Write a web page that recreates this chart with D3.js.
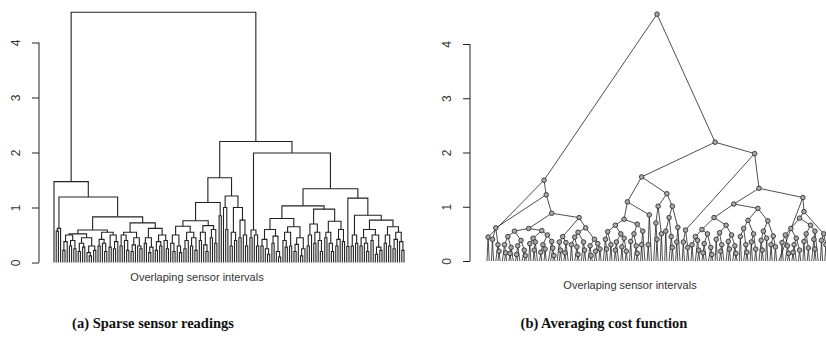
<!DOCTYPE html>
<html><head><meta charset="utf-8">
<script src="https://cdn.jsdelivr.net/npm/d3@7"></script>
<style>body{margin:0;background:#fff}svg{display:block}</style>
</head><body>
<svg id="chart" width="826" height="337"></svg>
<script>
// ---------- data ----------
const yTicks = [0, 1, 2, 3, 4];
const xLabel = "Overlaping sensor intervals";
const captions = ["(a) Sparse sensor readings", "(b) Averaging cost function"];

// Dendrogram nodes: [mergeHeight, leftChild, rightChild]; a leaf (sensor interval) is 0.
// ---- panel (a) ----
const leftP = [0.52, [0.5, [0.38, [0.22, 0, 0], 0], [0.4, [0.3, 0, 0], [0.25, 0, 0]]], [0.45, [0.35, [0.2, 0, 0], [0.28, 0, 0]], [0.3, [0.18, 0, [0.12, 0, 0]], [0.22, 0, 0]]]];
const leftQ = [0.55, [0.42, [0.3, 0, 0], [0.35, 0, [0.2, 0, 0]]], [0.5, [0.28, 0, 0], [0.38, [0.25, 0, 0], 0]]];
const leftR = [0.55, [0.5, [0.3, 0, 0], [0.4, 0, [0.22, 0, 0]]], [0.45, [0.32, [0.2, 0, 0], 0], [0.3, 0, [0.25, 0, 0]]]];
const leftS = [0.62, [0.45, [0.35, 0, 0], [0.28, [0.18, 0, 0], 0]], [0.5, [0.38, [0.22, 0, 0], [0.3, 0, 0]], [0.4, 0, [0.25, 0, 0]]]];
const leftA = [1.47, 0, [1.19, [0.62, [0.57, 0, 0], 0], [0.83, [0.59, leftP, leftQ], [0.72, leftR, leftS]]]];
const leftX = [0.66, [0.5, [0.35, 0, [0.2, 0, 0]], [0.3, 0, [0.18, 0, 0]]], [0.55, [0.4, [0.25, 0, 0], 0], [0.45, [0.3, 0, 0], [0.22, 0, 0]]]];
const leftY = [0.67, [0.55, [0.4, 0, 0], [0.32, 0, [0.2, 0, 0]]], [0.6, [0.45, 0, 0], [0.35, 0, 0]]];
const leftB1b = [1.21, [1.0, 0, [0.6, 0, 0]], [1.0, [0.55, [0.3, 0, 0], [0.4, 0, 0]], [0.77, [0.45, 0, 0], [0.5, 0, [0.3, 0, 0]]]]];
const leftB1 = [1.54, [1.09, [0.76, leftX, leftY], [0.85, 0, 0]], leftB1b];
const leftB2a = [0.59, [0.45, 0, 0], [0.5, 0, [0.3, 0, 0]]];
const leftA10 = [0.6, [0.42, [0.3, 0, 0], [0.25, 0, [0.15, 0, 0]]], [0.48, [0.35, 0, 0], [0.2, 0, [0.1, 0, 0]]]];
const leftA11 = [0.65, [0.55, [0.4, 0, [0.28, 0, 0]], [0.3, 0, 0]], [0.45, [0.33, [0.2, 0, 0], 0], [0.25, [0.12, 0, 0], 0]]];
const leftBb1 = [0.7, [0.5, [0.3, 0, 0], 0], [0.55, [0.35, 0, 0], [0.4, 0, [0.2, 0, 0]]]];
const leftBb2 = [0.75, [0.55, [0.45, 0, 0], [0.35, 0, [0.2, 0, 0]]], [0.6, [0.42, [0.3, 0, 0], 0], [0.38, 0, 0]]];
const leftC11 = [0.6, [0.45, [0.3, 0, 0], [0.35, 0, [0.2, 0, 0]]], [0.5, [0.4, 0, 0], [0.28, [0.15, 0, 0], [0.22, 0, 0]]]];
const leftC10 = [0.65, [0.5, [0.35, 0, 0], [0.3, 0, 0]], [0.55, [0.42, [0.25, 0, 0], 0], [0.38, 0, [0.22, 0, 0]]]];
const leftB2b = [1.34, [1.03, [0.8, leftA10, leftA11], [0.97, leftBb1, leftBb2]],
                       [1.17, [0.29, 0, 0], [0.86, [0.5, [0.3, 0, 0], [0.35, 0, 0]], [0.77, leftC11, leftC10]]]];
const leftTree = [4.55, leftA, [2.2, leftB1, [1.99, leftB2a, leftB2b]]];

// ---- panel (b) ----
const rC = [0.44, 0, 0];
const rE = [0.61, [0.4, 0, 0], [0.3, 0, [0.18, 0, 0]]];
const rG1 = [0.55, [0.45, [0.3, 0, [0.15, 0, 0]], [0.25, [0.14, 0, 0], 0]], [0.38, [0.28, [0.12, 0, 0], 0], [0.2, 0, [0.1, 0, 0]]]];
const rG2 = [0.56, [0.42, [0.32, 0, 0], [0.35, [0.2, 0, 0], 0]], [0.48, [0.3, [0.16, 0, 0], [0.22, 0, 0]], [0.36, 0, [0.24, 0, [0.1, 0, 0]]]]];
const rH1 = [0.45, [0.35, 0, [0.2, 0, 0]], [0.34, [0.15, 0, 0], 0]];
const rH2 = [0.61, [0.53, [0.44, [0.3, 0, 0], [0.26, 0, [0.12, 0, 0]]], [0.35, 0, [0.2, 0, 0]]], [0.4, [0.28, 0, [0.1, 0, 0]], [0.32, [0.18, 0, 0], [0.22, 0, 0]]]];
const rL = [1.49, rC, [1.22, rE, [0.88, [0.6, rG1, rG2], [0.8, rH1, rH2]]]];
const rA1a = [0.66, [0.54, [0.4, 0, [0.22, 0, 0]], [0.3, 0, 0]], [0.5, [0.35, [0.2, 0, 0], 0], [0.42, [0.26, 0, 0], [0.18, 0, 0]]]];
const rA1b = [0.68, [0.5, [0.36, 0, 0], [0.28, 0, [0.14, 0, 0]]], [0.55, [0.3, 0, 0], 0]];
const rB1 = [1.01, [0.7, 0, [0.4, 0, 0]], [0.5, 0, 0]];
const rB2 = [1.01, [0.8, [0.55, 0, 0], [0.45, 0, [0.25, 0, 0]]], [0.62, [0.35, 0, 0], 0]];
const rR1 = [1.55, [1.09, [0.77, rA1a, rA1b], [0.85, [0.3, 0, 0], 0]], [1.24, rB1, rB2]];
const rX = [0.57, [0.35, 0, 0], [0.25, 0, 0]];
const rM1 = [0.58, [0.45, [0.3, 0, 0], [0.38, 0, [0.2, 0, 0]]], [0.5, [0.32, [0.15, 0, 0], 0], [0.25, 0, [0.12, 0, 0]]]];
const rM2 = [0.66, [0.52, [0.4, 0, 0], [0.3, [0.18, 0, 0], 0]], [0.48, [0.36, 0, [0.22, 0, 0]], [0.28, 0, [0.14, 0, 0]]]];
const rN1 = [0.75, [0.6, [0.45, 0, 0], [0.3, 0, [0.16, 0, 0]]], [0.5, [0.35, 0, 0], [0.22, 0, 0]]];
const rN2 = [0.74, [0.55, [0.38, 0, [0.2, 0, 0]], [0.42, 0, 0]], [0.46, [0.3, 0, 0], [0.26, 0, 0]]];
const rYa = [0.6, [0.48, [0.34, 0, 0], [0.28, 0, [0.14, 0, 0]]], [0.42, [0.3, [0.16, 0, 0], 0], [0.2, 0, 0]]];
const rYb = [0.66, [0.5, [0.36, 0, 0], [0.24, 0, 0]], [0.55, [0.4, 0, [0.22, 0, 0]], 0]];
const rYc = [0.5, [0.38, 0, 0], [0.3, 0, 0]];
const rR2 = [1.98, rX, [1.34, [1.05, [0.8, rM1, rM2], [0.97, rN1, rN2]], [1.17, 0, [0.91, [0.79, rYa, rYb], rYc]]]];
const rightTree = [4.55, rL, [2.19, rR1, rR2]];

// ---------- helpers ----------
function toNode(a) {
  return Array.isArray(a) ? { h: a[0], children: [toNode(a[1]), toNode(a[2])] } : { h: 0 };
}
function build(tree) {
  const root = d3.hierarchy(toNode(tree));
  root.leaves().forEach((l, i) => { l.slot = i; });
  return root;
}

const svg = d3.select("#chart");
const ink = "#222";

function drawAxis(g, y) {
  const ax = d3.axisLeft(y).tickValues(yTicks).tickSize(7).tickFormat(d3.format("d"));
  g.call(ax);
  g.select(".domain").remove();
  g.append("line").attr("x1", 0).attr("x2", 0).attr("y1", y(0)).attr("y2", y(4)).attr("stroke", ink);
  g.selectAll(".tick line").attr("stroke", ink);
  g.selectAll(".tick text")
    .attr("x", null).attr("dy", null)
    .attr("transform", "translate(-19,0) rotate(-90)")
    .attr("text-anchor", "middle")
    .attr("fill", "#333")
    .style("font-family", "Liberation Sans, Arial, sans-serif")
    .style("font-size", "12px");
}

// ---------- panel (a): rectangular dendrogram ----------
{
  const root = build(leftTree);
  const n = root.leaves().length;
  const x = d3.scaleLinear().domain([0, n - 1]).range([54, 404]);
  const y = d3.scaleLinear().domain([0, 4]).range([262.5, 42.5]);
  root.eachAfter(d => { d.px = d.children ? d3.mean(d.children, c => c.px) : x(d.slot); });
  const g = svg.append("g");
  const paths = [];
  root.each(d => {
    if (!d.children) return;
    const [a, b] = d.children;
    paths.push(`M${a.px},${y(a.data.h)}V${y(d.data.h)}H${b.px}V${y(b.data.h)}`);
  });
  g.selectAll("path").data(paths).join("path")
    .attr("d", p => p).attr("fill", "none").attr("stroke", ink).attr("stroke-width", 1.1);
  drawAxis(svg.append("g").attr("transform", "translate(39,0)"), y);
  svg.append("text").attr("x", 197).attr("y", 281).attr("text-anchor", "middle")
    .attr("fill", "#333").style("font-family", "Liberation Sans, Arial, sans-serif").style("font-size", "11px")
    .text(xLabel);
}

// ---------- panel (b): triangular dendrogram with node markers ----------
{
  const root = build(rightTree);
  const n = root.leaves().length;
  const x = d3.scaleLinear().domain([0, n - 1]).range([487, 827]);
  const y = d3.scaleLinear().domain([0, 4]).range([261, 44]);
  root.each(d => { d.px = d3.mean(d.leaves(), l => x(l.slot)); });
  const g = svg.append("g");
  g.selectAll("line").data(root.links()).join("line")
    .attr("x1", l => l.source.px).attr("y1", l => y(l.source.data.h))
    .attr("x2", l => l.target.px).attr("y2", l => y(l.target.data.h))
    .attr("stroke", ink).attr("stroke-width", 0.8);
  g.selectAll("circle").data(root.descendants().filter(d => d.children)).join("circle")
    .attr("cx", d => d.px).attr("cy", d => y(d.data.h)).attr("r", 2.3)
    .attr("fill", "#a8a8a8").attr("stroke", ink).attr("stroke-width", 0.8);
  drawAxis(svg.append("g").attr("transform", "translate(470,0)"), y);
  svg.append("text").attr("x", 630).attr("y", 289).attr("text-anchor", "middle")
    .attr("fill", "#333").style("font-family", "Liberation Sans, Arial, sans-serif").style("font-size", "11px")
    .text(xLabel);
}

// ---------- captions ----------
svg.selectAll("text.cap").data(captions).join("text").attr("class", "cap")
  .attr("x", (d, i) => [153, 604][i]).attr("y", 328).attr("text-anchor", "middle")
  .attr("fill", "#111").style("font-family", "Liberation Serif, serif").style("font-weight", "bold").style("font-size", "14.5px")
  .text(d => d);
</script>
</body></html>
